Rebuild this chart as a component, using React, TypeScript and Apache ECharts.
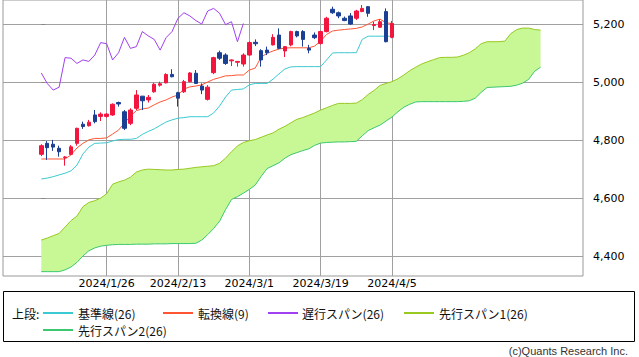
import React, { useEffect, useRef } from 'react';
import * as echarts from 'echarts';

// [open, close, low, high]
const CANDLES: number[][] = [
  [4751, 4781, 4745, 4786], [4789, 4774, 4732, 4797], [4786, 4776, 4763, 4801], [4772, 4760, 4743, 4781],
  [4740, 4742, 4712, 4745], [4751, 4777, 4749, 4783], [4789, 4841, 4781, 4843], [4855, 4847, 4839, 4864],
  [4850, 4862, 4847, 4870], [4887, 4864, 4858, 4904], [4882, 4890, 4866, 4896], [4882, 4890, 4878, 4893],
  [4887, 4924, 4884, 4927], [4930, 4925, 4916, 4933], [4898, 4841, 4835, 4904], [4858, 4904, 4852, 4910],
  [4910, 4956, 4904, 4973], [4952, 4936, 4904, 4952], [4939, 4948, 4930, 4956], [4967, 4993, 4964, 4998],
  [4990, 4995, 4985, 5002], [4998, 5027, 4996, 5031], [5027, 5019, 5017, 5045], [4964, 4945, 4916, 4967],
  [4967, 5002, 4963, 5008], [5002, 5032, 5000, 5035], [5031, 4996, 4994, 5042], [4987, 4973, 4959, 4996],
  [4941, 4983, 4937, 4990], [5033, 5085, 5028, 5088], [5102, 5083, 5077, 5109], [5094, 5065, 5060, 5100],
  [5074, 5077, 5056, 5079], [5069, 5072, 5054, 5073], [5063, 5094, 5054, 5100], [5094, 5137, 5092, 5141],
  [5138, 5133, 5125, 5148], [5109, 5077, 5054, 5114], [5111, 5102, 5094, 5123], [5129, 5155, 5127, 5166],
  [5163, 5117, 5114, 5186], [5108, 5123, 5087, 5125], [5129, 5175, 5124, 5178], [5175, 5160, 5155, 5178],
  [5175, 5148, 5123, 5180], [5117, 5111, 5100, 5129], [5163, 5154, 5149, 5172], [5134, 5175, 5130, 5178],
  [5175, 5221, 5172, 5226], [5252, 5240, 5236, 5261], [5240, 5229, 5221, 5244], [5221, 5213, 5211, 5227],
  [5229, 5201, 5198, 5239], [5221, 5246, 5215, 5250], [5244, 5255, 5242, 5267], [5261, 5238, 5226, 5263],
  [5196, 5199, 5180, 5209], [5190, 5209, 5188, 5217], [5244, 5140, 5138, 5255], [5155, 5203, 5152, 5212],
];

const TENKAN = [
  4735, 4735, 4735, 4735, 4735, 4749, 4773, 4789, 4801, 4806,
  4806, 4808, 4821, 4835, 4859, 4883, 4902, 4908, 4911, 4922,
  4932, 4939, 4949, 4956, 4977, 4984, 4987, 4991, 5001, 5010,
  5016, 5022, 5023, 5025, 5025, 5042, 5049, 5087, 5100, 5108,
  5115, 5118, 5119, 5119, 5119, 5119, 5125, 5142, 5165, 5177,
  5180, 5182, 5184, 5186, 5191, 5201, 5212, 5218, 5205, 5203,
];

const KIJUN = [
  4666, 4669, 4674, 4680, 4686, 4694, 4714, 4752, 4776, 4789,
  4790, 4791, 4797, 4802, 4803, 4803, 4806, 4820, 4830, 4839,
  4851, 4863, 4870, 4876, 4878, 4881, 4881, 4881, 4881, 4894,
  4918, 4949, 4973, 4975, 4977, 4991, 4996, 4996, 4996, 5011,
  5029, 5046, 5053, 5054, 5054, 5054, 5054, 5054, 5077, 5101,
  5102, 5102, 5102, 5102, 5148, 5159, 5159, 5159, 5159, 5159,
];

const CHIKOU = [
  5032, 4996, 4973, 4983, 5085, 5083, 5065, 5077, 5072, 5094,
  5137, 5133, 5077, 5102, 5155, 5117, 5123, 5175, 5160, 5148,
  5111, 5154, 5175, 5221, 5240, 5229, 5213, 5201, 5246, 5255,
  5238, 5199, 5209, 5140, 5203,
];

const SPAN1 = [
  4455, 4462, 4470, 4478, 4500, 4522, 4538, 4570, 4585, 4591,
  4600, 4615, 4648, 4656, 4662, 4672, 4690, 4697, 4700, 4699,
  4698, 4697, 4697, 4699, 4700, 4703, 4706, 4708, 4710, 4712,
  4720, 4738, 4760, 4780, 4792, 4798, 4802, 4810, 4818, 4825,
  4838, 4848, 4860, 4872, 4878, 4886, 4894, 4904, 4912, 4920,
  4927, 4927, 4927, 4928, 4940, 4958, 4972, 4989, 4996, 5002,
  5012, 5025, 5040, 5052, 5063, 5071, 5078, 5085, 5086, 5086,
  5087, 5093, 5102, 5115, 5133, 5140, 5140, 5140, 5142, 5168,
  5182, 5187, 5187, 5182, 5180,
];

const SPAN2 = [
  4346, 4346, 4346, 4346, 4352, 4362, 4378, 4400, 4418, 4428,
  4434, 4437, 4439, 4440, 4440, 4440, 4441, 4441, 4441, 4442,
  4442, 4442, 4443, 4443, 4443, 4443, 4444, 4455, 4474, 4495,
  4520, 4560, 4595, 4605, 4617, 4630, 4645, 4675, 4702, 4712,
  4722, 4738, 4750, 4757, 4764, 4770, 4782, 4790, 4792, 4793,
  4794, 4794, 4795, 4796, 4815, 4833, 4843, 4852, 4866, 4880,
  4898, 4914, 4924, 4932, 4933, 4933, 4933, 4933, 4933, 4933,
  4933, 4934, 4936, 4945, 4965, 4982, 4983, 4984, 4985, 4986,
  4990, 4997, 5010, 5038, 5052,
];

const TICK_POS = [11, 23, 35, 47, 59];
const TICK_LABELS = ['2024/1/26', '2024/2/13', '2024/3/1', '2024/3/19', '2024/4/5'];
const Y_TICKS = [4400, 4600, 4800, 5000, 5200];

const C_KIJUN = '#3ccad2';
const C_TENKAN = '#ff5533';
const C_CHIKOU = '#a040f0';
const C_SPAN1 = '#99c820';
const C_SPAN2 = '#3cc870';
const C_CLOUD = '#c8f896';
const C_UP = '#f2163f';
const C_DOWN = '#1b3f93';

const LEGEND_ITEMS = [
  { label: '基準線(26)', color: C_KIJUN, row: 0, lx: 43, tx: 78 },
  { label: '転換線(9)', color: C_TENKAN, row: 0, lx: 163, tx: 198 },
  { label: '遅行スパン(26)', color: C_CHIKOU, row: 0, lx: 268, tx: 302 },
  { label: '先行スパン1(26)', color: C_SPAN1, row: 0, lx: 404, tx: 439 },
  { label: '先行スパン2(26)', color: C_SPAN2, row: 1, lx: 43, tx: 78 },
];

export default function App() {
  const ref = useRef<HTMLDivElement>(null);
  useEffect(() => {
    const chart = echarts.init(ref.current!, null, { renderer: 'svg' });
    const xy = (arr: number[]) => arr.map((v, i) => [i, v]);
    const lineBase = { type: 'line', showSymbol: false, symbol: 'none', silent: true };
    const jp = '"Noto Sans CJK JP", sans-serif';

    const graphics: any[] = [
      {
        type: 'rect',
        shape: { x: 3.5, y: 291.5, width: 631, height: 50 },
        style: { fill: '#fff', stroke: '#000', lineWidth: 1 },
      },
      {
        type: 'text', x: 12, y: 313,
        style: { text: '上段:', fontSize: 12, fontFamily: jp, fill: '#111', textVerticalAlign: 'middle' },
      },
    ];
    LEGEND_ITEMS.forEach((it) => {
      const y = it.row === 0 ? 313 : 330;
      graphics.push({
        type: 'line',
        shape: { x1: it.lx, y1: y, x2: it.lx + 30, y2: y },
        style: { stroke: it.color, lineWidth: 2 },
      });
      graphics.push({
        type: 'text', x: it.tx, y,
        style: { text: it.label, fontSize: 12, fontFamily: jp, fill: '#111', textVerticalAlign: 'middle' },
      });
    });
    graphics.push({
      type: 'text', x: 628, y: 351,
      style: {
        text: '(c)Quants Research Inc.', fontSize: 11, fontFamily: '"Liberation Sans", sans-serif',
        fill: '#333', textAlign: 'right', textVerticalAlign: 'middle',
      },
    });

    const option: any = {
      animation: false,
      backgroundColor: '#fff',
      textStyle: { fontFamily: '"DejaVu Sans", sans-serif' },
      grid: {
        left: 3, top: 0, width: 580, height: 276,
        show: true, borderColor: '#999', borderWidth: 1, backgroundColor: 'transparent',
      },
      xAxis: {
        type: 'value', min: -6.44, max: 91.14,
        axisLine: { show: false },
        axisTick: { show: false, customValues: TICK_POS },
        axisLabel: {
          customValues: TICK_POS,
          formatter: (v: number) => {
            const k = TICK_POS.indexOf(Math.round(v));
            return k >= 0 ? TICK_LABELS[k] : '';
          },
          fontSize: 11, color: '#000', margin: 2,
        },
        splitLine: { show: true, lineStyle: { color: '#a0a0a0', width: 1 } },
      },
      yAxis: {
        type: 'value', position: 'right', min: 4331, max: 5284, scale: true,
        axisLine: { show: false },
        axisTick: { show: true, customValues: Y_TICKS, length: 4, lineStyle: { color: '#888' } },
        axisLabel: {
          customValues: Y_TICKS,
          formatter: (v: number) => v.toLocaleString('en-US'),
          fontSize: 11, color: '#000', margin: 10,
        },
        splitLine: { show: true, lineStyle: { color: '#a0a0a0', width: 1 } },
      },
      series: [
        {
          type: 'custom', name: 'cloud', z: 2, silent: true,
          data: [[0, SPAN1[0]]],
          renderItem: (_params: any, api: any) => {
            const top = SPAN1.map((v, i) => api.coord([i, v]));
            const bottom = SPAN2.map((v, i) => api.coord([i, v])).reverse();
            return {
              type: 'polygon',
              shape: { points: top.concat(bottom) },
              style: { fill: C_CLOUD, stroke: 'none' },
            };
          },
        },
        { ...lineBase, name: 'span2', data: xy(SPAN2), z: 3, lineStyle: { color: C_SPAN2, width: 1 } },
        { ...lineBase, name: 'span1', data: xy(SPAN1), z: 3, lineStyle: { color: C_SPAN1, width: 1 } },
        { ...lineBase, name: 'kijun', data: xy(KIJUN), z: 4, lineStyle: { color: C_KIJUN, width: 1 } },
        { ...lineBase, name: 'tenkan', data: xy(TENKAN), z: 4, lineStyle: { color: C_TENKAN, width: 1 } },
        { ...lineBase, name: 'chikou', data: xy(CHIKOU), z: 4, lineStyle: { color: C_CHIKOU, width: 1 } },
        {
          type: 'candlestick', name: 'price', z: 5, silent: true,
          data: CANDLES.map((c, i) => [i, c[0], c[1], c[2], c[3]]),
          barWidth: 4,
          itemStyle: {
            color: C_UP, color0: C_DOWN, borderColor: C_UP, borderColor0: C_DOWN, borderWidth: 1,
          },
        },
      ],
      graphic: graphics,
    };
    chart.setOption(option);
    return () => chart.dispose();
  }, []);
  return <div ref={ref} style={{ position: 'fixed', left: 0, top: 0, width: 639, height: 357 }} />;
}
